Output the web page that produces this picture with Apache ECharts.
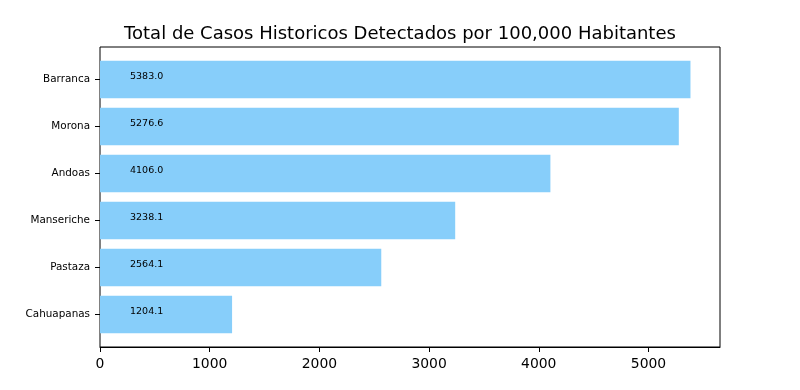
<!DOCTYPE html>
<html><head><meta charset="utf-8">
<script src="https://cdn.jsdelivr.net/npm/echarts@6/dist/echarts.min.js"></script>
<style>html,body{margin:0;padding:0;background:#fff}#c{width:800px;height:390px}</style>
</head><body><div id="c"></div>
<script>
const categories = ["Barranca", "Morona", "Andoas", "Manseriche", "Pastaza", "Cahuapanas"];
const values = [5383.0, 5276.6, 4106.0, 3238.1, 2564.1, 1204.1];
const xTicks = [0, 1000, 2000, 3000, 4000, 5000];
const titleText = "Total de Casos Historicos Detectados por 100,000 Habitantes";

const chart = echarts.init(document.getElementById('c'), null, {renderer: 'canvas'});
const xMax = Math.max(...values) * 1.05;
const frameTop = 47, frameH = 300;
const n = categories.length;
const yPad = 0.05 * (n - 1 + 0.8);
const unit = frameH / (n - 1 + 0.8 + 2 * yPad);
const bandTop = frameTop + (yPad + 0.4 - 0.5) * unit;
const bandH = unit * n;
chart.setOption({
  animation: false,
  title: {
    text: titleText, left: 'center', top: 20,
    textStyle: {fontFamily: 'DejaVu Sans', fontSize: 18, fontWeight: 'normal', color: '#000'}
  },
  grid: [
    {left: 100, right: 80, top: frameTop, height: frameH, show: true, borderColor: '#000', borderWidth: 1},
    {left: 100, right: 80, top: bandTop, height: bandH, show: false}
  ],
  xAxis: [{
    gridIndex: 0, type: 'value', min: 0, max: xMax, interval: 1000,
    axisLine: {show: true, lineStyle: {color: '#000', width: 1}},
    axisTick: {show: true, inside: false, length: 5, lineStyle: {color: '#000'}, customValues: xTicks},
    axisLabel: {fontFamily: 'DejaVu Sans', fontSize: 13.9, color: '#000', margin: 10,
      customValues: xTicks, formatter: v => String(v)},
    splitLine: {show: false}
  }, {
    gridIndex: 1, type: 'value', min: 0, max: xMax, show: false
  }],
  yAxis: [{
    gridIndex: 0, type: 'value', min: 0, max: 1, show: false
  }, {
    gridIndex: 1, type: 'category', data: categories, inverse: true,
    axisLine: {show: false},
    axisTick: {show: true, alignWithLabel: true, length: 5, lineStyle: {color: '#000'}},
    axisLabel: {fontFamily: 'DejaVu Sans', fontSize: 10.4, color: '#000', margin: 10}
  }],
  series: [{
    type: 'bar', xAxisIndex: 1, yAxisIndex: 1, data: values, barCategoryGap: '20%',
    itemStyle: {color: '#87CEFA'},
    label: {
      show: true, position: [30, '50%'], align: 'left', verticalAlign: 'bottom', offset: [0, 2],
      formatter: p => p.value.toFixed(1),
      fontFamily: 'DejaVu Sans', fontSize: 9.5, color: '#000'
    }
  }]
});
</script></body></html>
